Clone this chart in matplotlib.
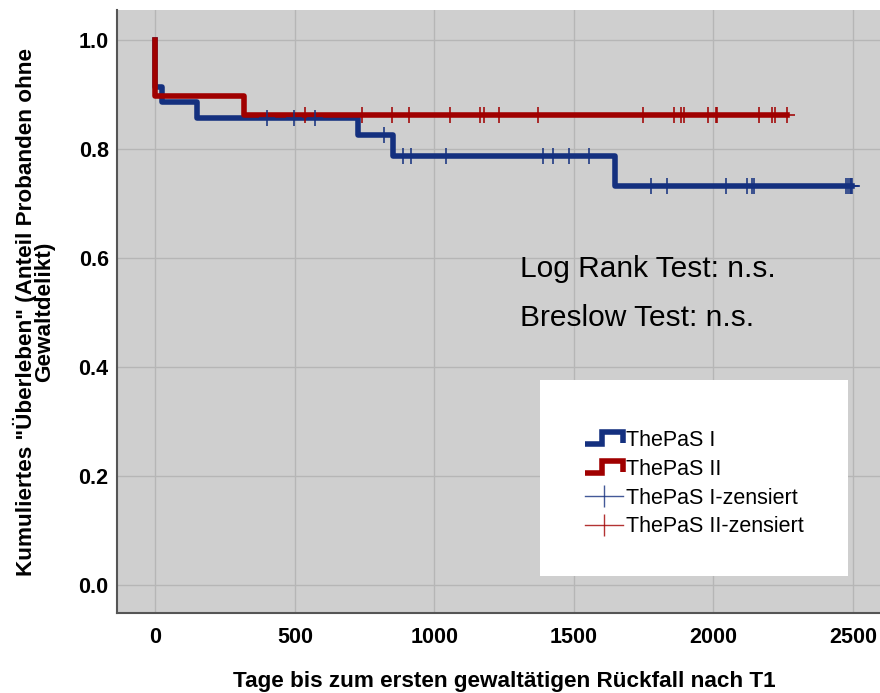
import numpy as np
import matplotlib.pyplot as plt
from matplotlib.lines import Line2D
from matplotlib.patches import Rectangle
from matplotlib.legend_handler import HandlerBase

plt.rcParams['font.family'] = ['Liberation Sans', 'DejaVu Sans']

# Kaplan-Meier steps (time in days, survival after the step)
thepas1_t = [0, 0, 25, 150, 727, 850, 1647, 2497]
thepas1_s = [1.0, 0.914, 0.886, 0.857, 0.826, 0.788, 0.732, 0.732]
thepas2_t = [0, 0, 316, 2265]
thepas2_s = [1.0, 0.897, 0.862, 0.862]

# censored cases (time, survival level)
cens1_t = [399, 497, 571, 820, 886, 916, 1041, 1390, 1426, 1482, 1554,
           1776, 1832, 2044, 2122, 2137, 2145, 2475, 2482, 2488, 2494, 2497]
cens1_s = [0.857, 0.857, 0.857, 0.826, 0.788, 0.788, 0.788, 0.788, 0.788, 0.788, 0.788,
           0.732, 0.732, 0.732, 0.732, 0.732, 0.732, 0.732, 0.732, 0.732, 0.732, 0.732]
cens2_t = [536, 739, 847, 910, 1056, 1163, 1178, 1231, 1370, 1748, 1859, 1884,
           1893, 1981, 2008, 2014, 2162, 2211, 2221, 2265]
cens2_s = [0.862] * len(cens2_t)

labels = ["ThePaS I", "ThePaS II", "ThePaS I-zensiert", "ThePaS II-zensiert"]
x_ticks = [0, 500, 1000, 1500, 2000, 2500]
y_ticks = [0.0, 0.2, 0.4, 0.6, 0.8, 1.0]

blue = '#14307f'
red = '#a00000'


class StepHandler(HandlerBase):
    # draws the little step icon SPSS uses in its legend
    def create_artists(self, legend, orig_handle, xdescent, ydescent,
                       width, height, fontsize, trans):
        lo, hi = 0.1 * height, 0.9 * height
        xs = np.array([0, 0.45 * width, 0.45 * width, width, width]) - xdescent
        ys = np.array([lo, lo, hi, hi, lo + 0.1 * height]) - ydescent
        line = Line2D(xs, ys, color=orig_handle.get_color(),
                      lw=orig_handle.get_linewidth(), solid_joinstyle='miter',
                      solid_capstyle='butt')
        line.set_transform(trans)
        return [line]


fig = plt.figure(figsize=(8.8, 6.93), dpi=100)
ax = fig.add_axes([117 / 880, 80 / 693, 763 / 880, 603 / 693])
ax.set_facecolor('#cfcfcf')

l1, = ax.step(thepas1_t, thepas1_s, where='post', color=blue, lw=4, zorder=2)
l2, = ax.step(thepas2_t, thepas2_s, where='post', color=red, lw=4, zorder=2.1)
ax.plot(cens1_t, cens1_s, ls='none', marker='+', ms=12, mew=1.4, color=blue, alpha=0.8, zorder=3)
ax.plot(cens2_t, cens2_s, ls='none', marker='+', ms=12, mew=1.4, color=red, alpha=0.8, zorder=3)

ax.set_xlim(-138, 2597)
ax.set_ylim(-0.051, 1.055)
ax.set_xticks(x_ticks)
ax.set_yticks(y_ticks)
ax.set_yticklabels([f'{v:.1f}' for v in y_ticks])
ax.tick_params(length=0, labelsize=15.5)
ax.tick_params(axis='x', pad=10)
ax.tick_params(axis='y', pad=6)
for lab in ax.get_xticklabels() + ax.get_yticklabels():
    lab.set_fontweight('bold')

ax.set_axisbelow(True)
ax.grid(True, color='#b6b6b6', lw=1)
for s in ['top', 'right']:
    ax.spines[s].set_visible(False)
for s in ['left', 'bottom']:
    ax.spines[s].set_color('#555555')
    ax.spines[s].set_linewidth(1.5)

ax.set_xlabel('Tage bis zum ersten gewaltätigen Rückfall nach T1', fontsize=16.2, fontweight='bold')
ax.xaxis.set_label_coords(0.507, -0.096)
ax.set_ylabel('Kumuliertes "Überleben" (Anteil Probanden ohne\nGewaltdelikt)',
              fontsize=16.2, fontweight='bold', linespacing=0.85)
ax.yaxis.set_label_coords(-0.081, 0.5)

ax.text(1306, 0.565, 'Log Rank Test: n.s.', fontsize=21.5, va='baseline')
ax.text(1306, 0.475, 'Breslow Test: n.s.', fontsize=21.5, va='baseline')

# white legend panel
ax.add_patch(Rectangle((540 / 880, 117 / 693), 308 / 880, 196 / 693,
                       transform=fig.transFigure, facecolor='white',
                       edgecolor='none', zorder=4))

h3 = Line2D([], [], color=blue, lw=1, marker='|', ms=16, mew=1, alpha=0.8)
h4 = Line2D([], [], color=red, lw=1, marker='|', ms=16, mew=1, alpha=0.8)
leg = ax.legend([l1, l2, h3, h4], labels, loc='upper left',
                bbox_to_anchor=(585 / 880, 1 - 430 / 693),
                bbox_transform=fig.transFigure, frameon=False, fontsize=15.5,
                handlelength=1.75, handletextpad=0.15, labelspacing=0.36,
                borderpad=0, borderaxespad=0, numpoints=1,
                handler_map={l1: StepHandler(), l2: StepHandler()})
leg.set_zorder(5)

fig.savefig('out.png', dpi=100)
